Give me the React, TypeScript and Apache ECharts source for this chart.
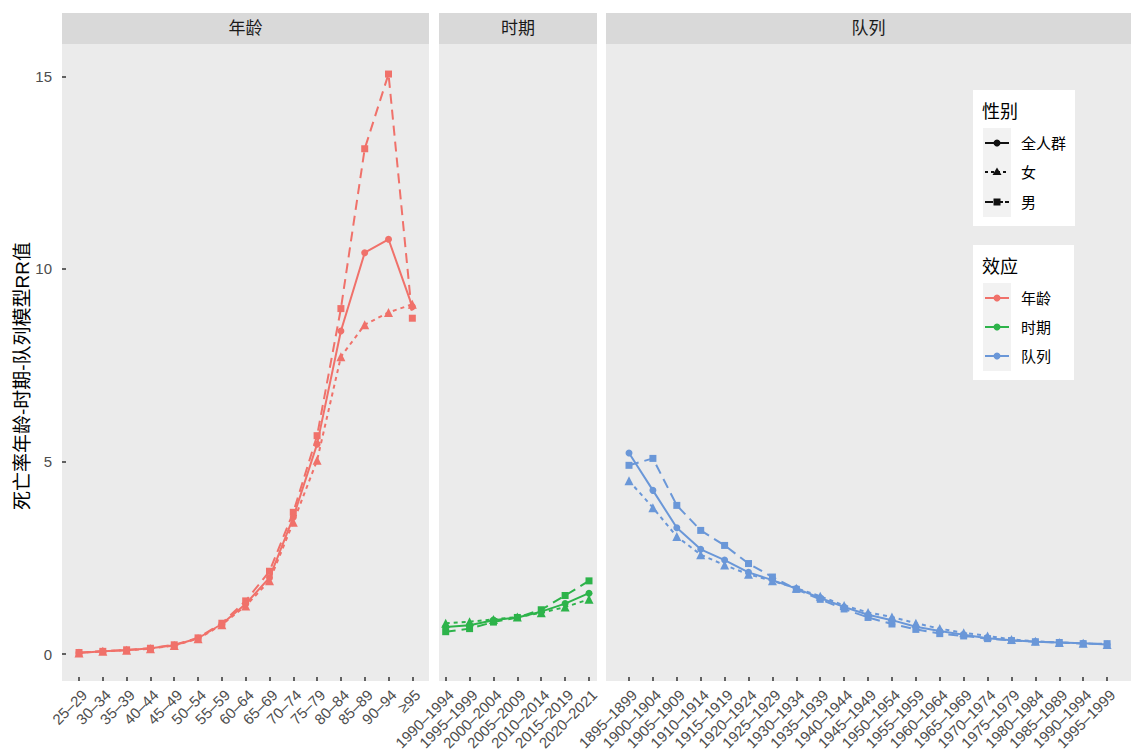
import React, { useEffect, useRef } from "react";
import * as echarts from "echarts";

// ---------- data ----------
const ageLabels = ["25–29", "30–34", "35–39", "40–44", "45–49", "50–54", "55–59", "60–64", "65–69", "70–74", "75–79", "80–84", "85–89", "90–94", "≥95"];
const ageAll = [0.03, 0.07, 0.1, 0.15, 0.23, 0.41, 0.78, 1.3, 1.98, 3.55, 5.45, 8.39, 10.42, 10.77, 9.02];
const ageFemale = [0.03, 0.07, 0.1, 0.14, 0.22, 0.4, 0.76, 1.25, 1.9, 3.42, 5.03, 7.72, 8.55, 8.87, 9.08];
const ageMale = [0.04, 0.07, 0.11, 0.15, 0.24, 0.42, 0.8, 1.38, 2.15, 3.68, 5.67, 8.97, 13.12, 15.06, 8.72];

const periodLabels = ["1990–1994", "1995–1999", "2000–2004", "2005–2009", "2010–2014", "2015–2019", "2020–2021"];
const periodAll = [0.7, 0.75, 0.88, 0.95, 1.1, 1.31, 1.58];
const periodFemale = [0.8, 0.84, 0.9, 0.96, 1.07, 1.22, 1.42];
const periodMale = [0.58, 0.66, 0.83, 0.95, 1.15, 1.52, 1.9];

const cohortLabels = ["1895–1899", "1900–1904", "1905–1909", "1910–1914", "1915–1919", "1920–1924", "1925–1929", "1930–1934", "1935–1939", "1940–1944", "1945–1949", "1950–1954", "1955–1959", "1960–1964", "1965–1969", "1970–1974", "1975–1979", "1980–1984", "1985–1989", "1990–1994", "1995–1999"];
const cohortAll = [5.22, 4.25, 3.28, 2.72, 2.44, 2.12, 1.92, 1.7, 1.46, 1.22, 1.02, 0.88, 0.71, 0.6, 0.5, 0.41, 0.36, 0.32, 0.3, 0.28, 0.25];
const cohortFemale = [4.5, 3.8, 3.05, 2.58, 2.31, 2.07, 1.9, 1.71, 1.5, 1.26, 1.08, 0.96, 0.8, 0.66, 0.55, 0.47, 0.38, 0.33, 0.3, 0.28, 0.25];
const cohortMale = [4.9, 5.08, 3.86, 3.21, 2.82, 2.35, 2.0, 1.68, 1.42, 1.17, 0.95, 0.78, 0.64, 0.53, 0.47, 0.4, 0.35, 0.32, 0.3, 0.27, 0.27];

const yTicks = [0, 5, 10, 15];
const facetNames = ["年龄", "时期", "队列"];
const sexNames = ["全人群", "女", "男"];
const effectNames = ["年龄", "时期", "队列"];
const yTitle = "死亡率年龄-时期-队列模型RR值";

// ---------- style ----------
const COLORS = ["#F0716A", "#2DB34A", "#6A97D8"];
const FONT = "'Liberation Sans', 'Noto Sans CJK SC', sans-serif";
const PANEL_BG = "#EBEBEB";
const STRIP_BG = "#D9D9D9";

const panels = [
  { left: 62, width: 367, labels: ageLabels, all: ageAll, female: ageFemale, male: ageMale, min: -0.714, max: 14.7 },
  { left: 439, width: 158, labels: periodLabels, all: periodAll, female: periodFemale, male: periodMale, min: -0.28, max: 6.335 },
  { left: 606, width: 525, labels: cohortLabels, all: cohortAll, female: cohortFemale, male: cohortMale, min: -0.962, max: 21.0 },
];
const TOP = 44;
const BOTTOM = 681;
const Y_MIN = -0.7;
const Y_MAX = 15.84;

function toPairs(arr: number[]) {
  return arr.map((v, i) => [i, v]);
}

export default function App() {
  const ref = useRef<HTMLDivElement>(null);
  useEffect(() => {
    if (!ref.current) return;
    const chart = echarts.init(ref.current, undefined, { renderer: "svg" });

    const grids = panels.map((p) => ({
      left: p.left,
      width: p.width,
      top: TOP,
      height: BOTTOM - TOP,
      show: true,
      backgroundColor: PANEL_BG,
      borderWidth: 0,
      containLabel: false,
    }));

    const xAxes = panels.map((p, gi) => {
      const idx = p.labels.map((_, i) => i);
      return {
        type: "value",
        gridIndex: gi,
        min: p.min,
        max: p.max,
        position: "bottom",
        axisLine: { show: false, onZero: false },
        splitLine: { show: false },
        axisTick: { show: true, inside: true, length: 4, customValues: idx, lineStyle: { color: "#333", width: 1.5 } },
        axisLabel: {
          customValues: idx,
          rotate: 45,
          margin: 6,
          fontSize: 15,
          color: "#4D4D4D",
          fontFamily: FONT,
          align: "right",
          verticalAlign: "top",
          hideOverlap: false,
          formatter: (v: number) => p.labels[Math.round(v)] ?? "",
        },
      };
    });

    const yAxes = panels.map((_, gi) => ({
      type: "value",
      gridIndex: gi,
      min: Y_MIN,
      max: Y_MAX,
      position: "left",
      show: gi === 0,
      axisLine: { show: false, onZero: false },
      splitLine: { show: false },
      axisTick: { show: true, inside: true, length: 4, customValues: yTicks, lineStyle: { color: "#333", width: 1.5 } },
      axisLabel: { customValues: yTicks, margin: 10, fontSize: 15, color: "#4D4D4D", fontFamily: FONT },
    }));

    const series: any[] = [];
    panels.forEach((p, gi) => {
      const color = COLORS[gi];
      const common = {
        type: "line",
        xAxisIndex: gi,
        yAxisIndex: gi,
        itemStyle: { color },
        silent: true,
        clip: false,
      };
      series.push({
        ...common,
        name: facetNames[gi] + "男",
        data: toPairs(p.male),
        symbol: "rect",
        symbolSize: 7,
        lineStyle: { color, width: 2, type: [10, 6] },
      });
      series.push({
        ...common,
        name: facetNames[gi] + "女",
        data: toPairs(p.female),
        symbol: "triangle",
        symbolSize: 9,
        lineStyle: { color, width: 2, type: [4, 4] },
      });
      series.push({
        ...common,
        name: facetNames[gi] + "全人群",
        data: toPairs(p.all),
        symbol: "circle",
        symbolSize: 7,
        lineStyle: { color, width: 2, type: "solid" },
      });
    });

    const graphics: any[] = [];
    // strips
    panels.forEach((p, gi) => {
      graphics.push({
        type: "rect",
        shape: { x: p.left, y: 13, width: p.width, height: TOP - 13 },
        style: { fill: STRIP_BG },
        silent: true,
      });
      graphics.push({
        type: "text",
        x: p.left + p.width / 2,
        y: 13 + (TOP - 13) / 2,
        style: { text: facetNames[gi], fill: "#1A1A1A", font: `17px ${FONT}`, align: "center", verticalAlign: "middle" },
        silent: true,
      });
    });
    // y title
    graphics.push({
      type: "text",
      x: 22,
      y: 376,
      rotation: Math.PI / 2,
      style: { text: yTitle, fill: "#000", font: `19px ${FONT}`, align: "center", verticalAlign: "middle" },
      silent: true,
    });

    // legend 1: sex
    const L1 = { x: 973, y: 90, w: 102, h: 136 };
    graphics.push({ type: "rect", shape: { x: L1.x, y: L1.y, width: L1.w, height: L1.h }, style: { fill: "#FFFFFF" }, silent: true });
    graphics.push({ type: "text", x: 982, y: 112, style: { text: "性别", fill: "#000", font: `18px ${FONT}`, verticalAlign: "middle" }, silent: true });
    graphics.push({ type: "rect", shape: { x: 983, y: 128, width: 28, height: 89 }, style: { fill: "#F2F2F2" }, silent: true });
    const sexY = [143, 172, 202];
    sexNames.forEach((name, i) => {
      const y = sexY[i];
      const dash = i === 0 ? null : i === 1 ? [3, 3] : [8, 2];
      graphics.push({
        type: "line",
        shape: { x1: 985, y1: y, x2: 1009, y2: y },
        style: { stroke: "#111", lineWidth: 2, lineDash: dash },
        silent: true,
      });
      if (i === 0) {
        graphics.push({ type: "circle", shape: { cx: 997, cy: y, r: 3.5 }, style: { fill: "#111" }, silent: true });
      } else if (i === 1) {
        graphics.push({ type: "polygon", shape: { points: [[997, y - 4.5], [1001.5, y + 3], [992.5, y + 3]] }, style: { fill: "#111" }, silent: true });
      } else {
        graphics.push({ type: "rect", shape: { x: 993.5, y: y - 3.5, width: 7, height: 7 }, style: { fill: "#111" }, silent: true });
      }
      graphics.push({ type: "text", x: 1021, y, style: { text: name, fill: "#000", font: `15px ${FONT}`, verticalAlign: "middle" }, silent: true });
    });

    // legend 2: effect
    const L2 = { x: 973, y: 245, w: 101, h: 135 };
    graphics.push({ type: "rect", shape: { x: L2.x, y: L2.y, width: L2.w, height: L2.h }, style: { fill: "#FFFFFF" }, silent: true });
    graphics.push({ type: "text", x: 982, y: 267, style: { text: "效应", fill: "#000", font: `18px ${FONT}`, verticalAlign: "middle" }, silent: true });
    graphics.push({ type: "rect", shape: { x: 983, y: 283, width: 28, height: 88 }, style: { fill: "#F2F2F2" }, silent: true });
    const effY = [298, 327, 356];
    effectNames.forEach((name, i) => {
      const y = effY[i];
      graphics.push({ type: "line", shape: { x1: 985, y1: y, x2: 1009, y2: y }, style: { stroke: COLORS[i], lineWidth: 2 }, silent: true });
      graphics.push({ type: "circle", shape: { cx: 997, cy: y, r: 3.5 }, style: { fill: COLORS[i] }, silent: true });
      graphics.push({ type: "text", x: 1021, y, style: { text: name, fill: "#000", font: `15px ${FONT}`, verticalAlign: "middle" }, silent: true });
    });

    chart.setOption({
      animation: false,
      backgroundColor: "#FFFFFF",
      grid: grids,
      xAxis: xAxes,
      yAxis: yAxes,
      series,
      graphic: { elements: graphics.map((g) => ({ ...g, z: 100 })) },
    });

    return () => chart.dispose();
  }, []);

  return <div ref={ref} style={{ width: 1141, height: 754, position: "absolute", left: 0, top: 0 }} />;
}
